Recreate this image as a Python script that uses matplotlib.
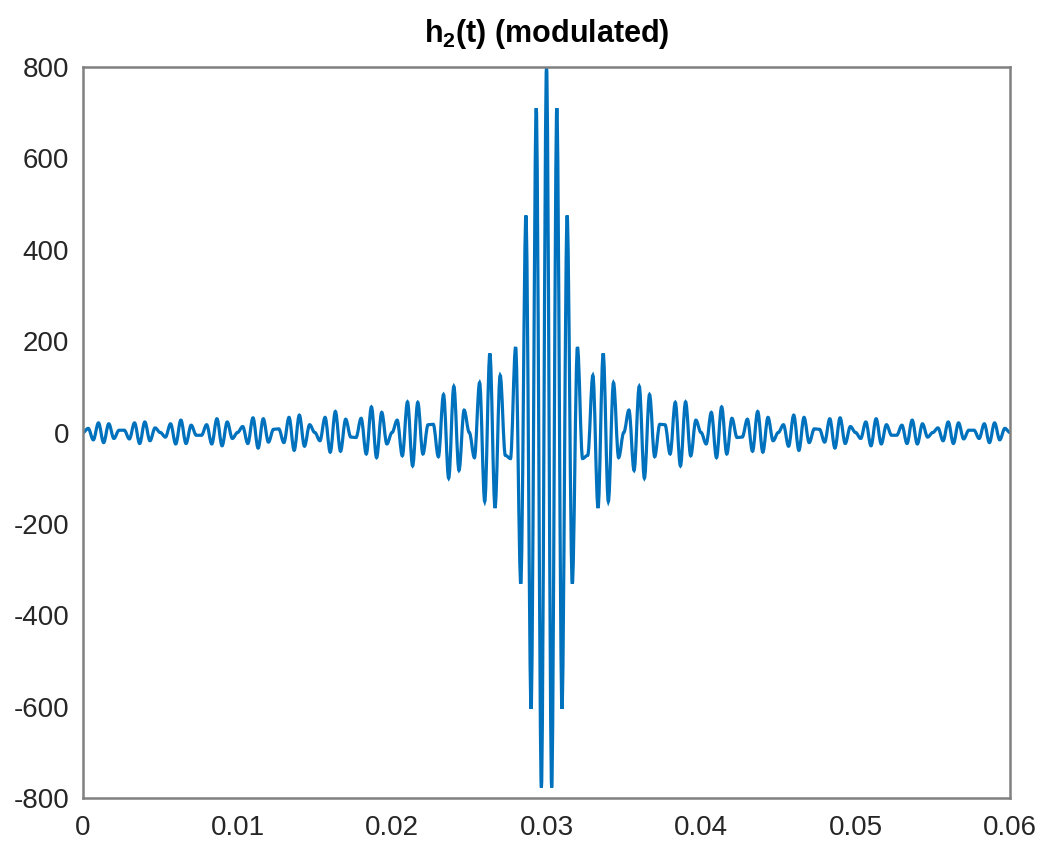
import numpy as np
import matplotlib.pyplot as plt
from matplotlib.path import Path
from matplotlib.patches import PathPatch

plt.rcParams['font.family'] = ['Liberation Sans', 'DejaVu Sans']
plt.rcParams['mathtext.fontset'] = 'custom'
plt.rcParams['mathtext.rm'] = 'Liberation Sans:bold'
plt.rcParams['mathtext.bf'] = 'Liberation Sans:bold'
plt.rcParams['axes.unicode_minus'] = False

# extrema of the modulated pulse, one every half carrier period (0 .. 0.06 s)
t = np.linspace(0, 0.06, 181)
h2 = [
    0, 9, -16, 21, -22, 19, -13, 5, 5, -14, 21, -24, 23, -18, 10,
    0, -10, 19, -25, 27, -24, 16, -6, -6, 17, -25, 30, -29, 23, -13,
    0, 13, -24, 32, -34, 30, -21, 7, 8, -22, 33, -39, 38, -30, 17,
    0, -18, 33, -43, 46, -41, 29, -10, -11, 31, -47, 56, -55, 44, -25,
    0, 27, -51, 67, -73, 66, -47, 17, 18, -53, 83, -100, 101, -83, 49,
    0, -55, 109, -151, 173, -165, 125, -50, -57, 187, -331, 475, -605, 710, -777,
    800,
    -777, 710, -605, 475, -331, 187, -57, -50, 125, -165, 173, -151, 109, -55, 0,
    49, -83, 101, -100, 83, -53, 18, 17, -47, 66, -73, 67, -51, 27, 0,
    -25, 44, -55, 56, -47, 31, -11, -10, 29, -41, 46, -43, 33, -18, 0,
    17, -30, 38, -39, 33, -22, 8, 7, -21, 30, -34, 32, -24, 13, 0,
    -13, 23, -29, 30, -25, 17, -6, -6, 16, -24, 27, -25, 19, -10, 0,
    10, -18, 23, -24, 21, -14, 5, 5, -13, 19, -22, 21, -16, 9, 0,
]

xticks = [0, 0.01, 0.02, 0.03, 0.04, 0.05, 0.06]
xlabels = ['0', '0.01', '0.02', '0.03', '0.04', '0.05', '0.06']
yticks = [-800, -600, -400, -200, 0, 200, 400, 600, 800]

# smooth curve through the extrema: cubic segments with flat tangents at each peak
verts = [(t[0], h2[0])]
codes = [Path.MOVETO]
for i in range(len(t) - 1):
    d = (t[i + 1] - t[i]) * 0.36
    verts += [(t[i] + d, h2[i]), (t[i + 1] - d, h2[i + 1]), (t[i + 1], h2[i + 1])]
    codes += [Path.CURVE4] * 3

fig = plt.figure(figsize=(10.43, 8.44), dpi=100)
ax = fig.add_axes([0.0796, 0.0545, 0.8888, 0.8661])
ax.add_patch(PathPatch(Path(verts, codes), facecolor='none',
                       edgecolor='#0072BD', lw=2.3))

ax.set_xlim(0, 0.06)
ax.set_ylim(-800, 800)
ax.set_xticks(xticks)
ax.set_xticklabels(xlabels)
ax.set_yticks(yticks)
ax.tick_params(length=0, labelcolor='#262626', labelsize=20)
ax.tick_params(axis='x', pad=12)
ax.tick_params(axis='y', pad=10)
for s in ax.spines.values():
    s.set_color('#808080')
    s.set_linewidth(1.8)

ax.set_title(r'h$_2$(t) (modulated)', fontsize=22, fontweight='bold', pad=18)

fig.savefig('out.png', dpi=100)
